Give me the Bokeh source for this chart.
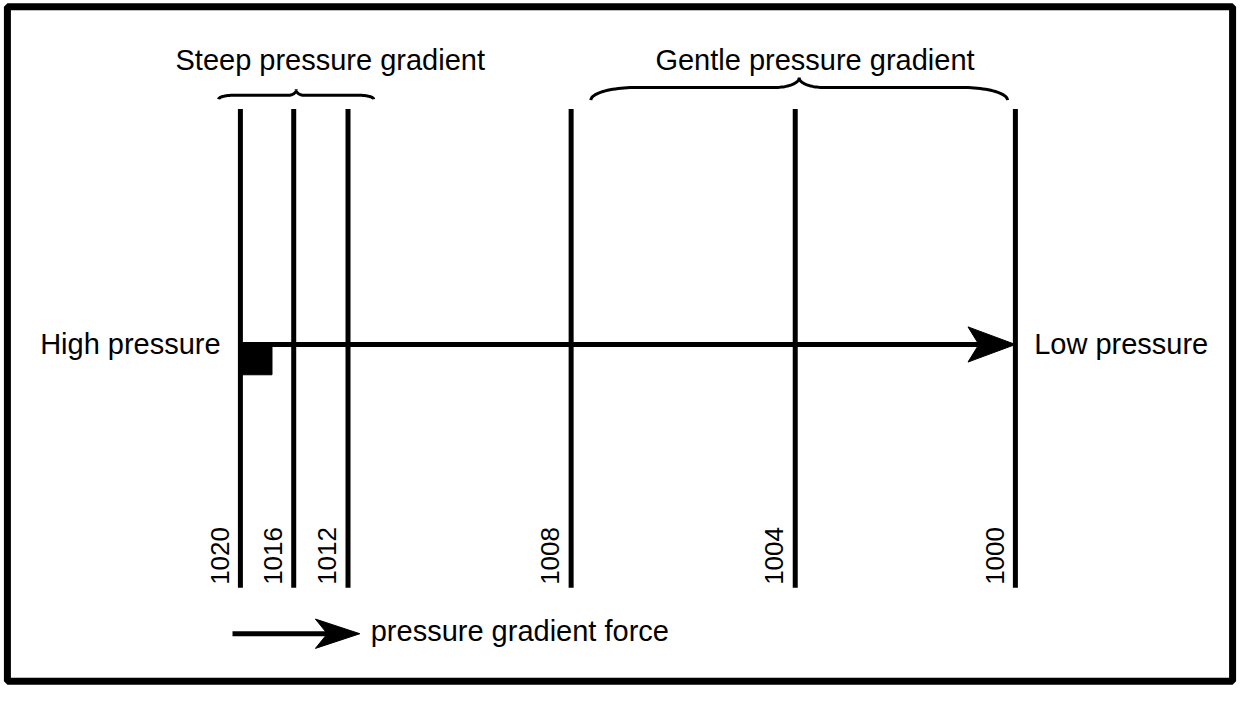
import numpy as np
from bokeh.plotting import figure
from bokeh.models import Range1d
from bokeh.core.properties import value
from bokeh.embed import file_html
from bokeh.resources import INLINE

# ---------------- data ----------------
isobar_hpa = [1020, 1016, 1012, 1008, 1004, 1000]
isobar_distance = [243, 297, 352, 578, 805, 1028]   # position along the section
isobar_labels = [str(v) for v in isobar_hpa]
group_names = ["Steep pressure gradient", "Gentle pressure gradient"]
end_labels = ["High pressure", "Low pressure"]
legend_text = "pressure gradient force"

# ---------------- layout / style ----------------
W, H = 1239, 686
SX, SY = 1255, 702          # drawing space of the diagram
FONT = value("Liberation Sans")
INK = "#000000"

ISO_TOP, ISO_BOTTOM = 111, 601
ARROW_Y = 352
LEGEND_Y = 648

p = figure(width=W, height=H, output_backend="svg", toolbar_location=None,
           x_range=Range1d(0, SX), y_range=Range1d(SY, 0),
           x_axis_type=None, y_axis_type=None, min_border=0)
p.grid.visible = False
p.outline_line_color = None
p.background_fill_color = "white"
p.border_fill_color = "white"

# frame
p.quad(left=[7], right=[SX - 7], top=[6.5], bottom=[SY - 5.5],
       fill_color=None, line_color=INK, line_width=7)

# isobars
n = len(isobar_distance)
p.segment(x0=isobar_distance, y0=[ISO_TOP] * n, x1=isobar_distance, y1=[ISO_BOTTOM] * n,
          line_color=INK, line_width=5)

# isobar labels (rotated)
p.text(x=[d - 12 for d in isobar_distance], y=[ISO_BOTTOM - 3] * n, text=isobar_labels,
       angle=np.pi / 2, text_align="left", text_baseline="bottom",
       text_font=FONT, text_font_size="26px", text_color=INK)


def arrow(x_start, x_tip, y, head_len, half_w, notch, lw):
    p.segment(x0=[x_start], y0=[y], x1=[x_tip - notch + 2], y1=[y],
              line_color=INK, line_width=lw)
    p.patch(x=[x_tip, x_tip - head_len, x_tip - notch, x_tip - head_len],
            y=[y, y - half_w, y, y + half_w], fill_color=INK, line_color=INK, line_width=1)


# main pressure gradient arrow
arrow(isobar_distance[0], isobar_distance[-1], ARROW_Y, 48, 18, 37, 5)

# right-angle marker
p.quad(left=[isobar_distance[0]], right=[isobar_distance[0] + 32],
       top=[ARROW_Y], bottom=[ARROW_Y + 31], fill_color=INK, line_color=INK)

# end labels
p.text(x=[223], y=[ARROW_Y - 1], text=[end_labels[0]], text_align="right", text_baseline="middle",
       text_font=FONT, text_font_size="29px", text_color=INK)
p.text(x=[1047], y=[ARROW_Y - 1], text=[end_labels[1]], text_align="left", text_baseline="middle",
       text_font=FONT, text_font_size="29px", text_color=INK)


def brace(x_left, x_right, y_end, rise, tip, r_end, r_mid, k=24):
    t = np.linspace(0, np.pi / 2, k)
    xm = (x_left + x_right) / 2
    y_flat = y_end - rise
    xa = x_left + r_end * (1 - np.cos(t))
    ya = y_end - rise * np.sin(t)
    xb = xm - r_mid + r_mid * np.sin(t)
    yb = y_flat - tip * (1 - np.cos(t))
    lx = np.concatenate([xa, xb])
    ly = np.concatenate([ya, yb])
    xs = np.concatenate([lx, 2 * xm - lx[::-1]])
    ys = np.concatenate([ly, ly[::-1]])
    p.line(xs, ys, line_color=INK, line_width=3)


brace(221, 378, 101, 4, 6, 15, 8)
brace(598, 1020, 102, 13, 10, 46, 25)

# group titles
p.text(x=[334, 825], y=[61, 61], text=group_names, text_align="center", text_baseline="middle",
       text_font=FONT, text_font_size="29px", text_color=INK)

# legend arrow
arrow(235, 364, LEGEND_Y, 45, 15, 33, 5)
p.text(x=[375], y=[LEGEND_Y - 3], text=[legend_text], text_align="left", text_baseline="middle",
       text_font=FONT, text_font_size="29px", text_color=INK)

open("out.html", "w").write(file_html(p, INLINE))
